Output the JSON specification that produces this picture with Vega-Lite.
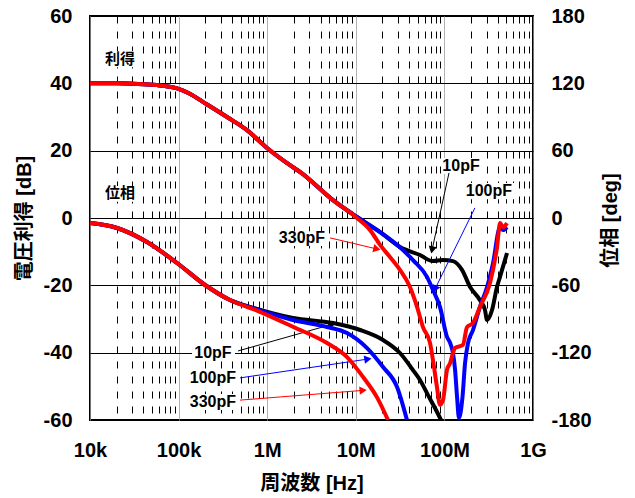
{
  "$schema": "https://vega.github.io/schema/vega-lite/v6.json",
  "width": 443,
  "height": 404,
  "autosize": "none",
  "padding": {"left": 90, "top": 16, "right": 102, "bottom": 78},
  "background": "white",
  "config": {"view": {"stroke": "#000000", "strokeWidth": 2}, "font": "Liberation Sans"},
  "datasets": {
    "gain10": [
      {"f": 10000, "v": 40.0}, {"f": 20000, "v": 40.0}, {"f": 30000, "v": 39.9}, {"f": 50000, "v": 39.6},
      {"f": 70000, "v": 39.2}, {"f": 96000, "v": 38.5}, {"f": 134000, "v": 36.9}, {"f": 188000, "v": 34.5},
      {"f": 352000, "v": 30.0}, {"f": 591000, "v": 26.1},
      {"f": 995000, "v": 20.8}, {"f": 1950000, "v": 15.1}, {"f": 2340000, "v": 13.7}, {"f": 5530000, "v": 5.3},
      {"f": 10300000, "v": 0.3}, {"f": 18800000, "v": -4.2}, {"f": 31500000, "v": -8.6}, {"f": 53000000, "v": -11.0},
      {"f": 74000000, "v": -12.8}, {"f": 96000000, "v": -12.5}, {"f": 125000000, "v": -12.8}, {"f": 158000000, "v": -15.4},
      {"f": 195000000, "v": -20.5}, {"f": 252000000, "v": -24.4}, {"f": 287000000, "v": -27.3}, {"f": 303000000, "v": -30.3},
      {"f": 345000000, "v": -27.3}, {"f": 392000000, "v": -20.5}, {"f": 424000000, "v": -17.5}, {"f": 509000000, "v": -10.4}
    ],
    "gain100": [
      {"f": 10000, "v": 40.0}, {"f": 20000, "v": 40.0}, {"f": 30000, "v": 39.9}, {"f": 50000, "v": 39.6},
      {"f": 70000, "v": 39.2}, {"f": 96000, "v": 38.5}, {"f": 134000, "v": 36.9}, {"f": 188000, "v": 34.5},
      {"f": 352000, "v": 30.0}, {"f": 591000, "v": 26.1},
      {"f": 995000, "v": 20.8}, {"f": 1950000, "v": 15.1}, {"f": 2340000, "v": 13.7}, {"f": 5530000, "v": 5.3},
      {"f": 10300000, "v": 0.3}, {"f": 18800000, "v": -4.2}, {"f": 31500000, "v": -8.7}, {"f": 44200000, "v": -12.5},
      {"f": 63600000, "v": -17.5}, {"f": 74300000, "v": -21.4}, {"f": 89100000, "v": -26.4}, {"f": 107000000, "v": -35.3},
      {"f": 116000000, "v": -37.1}, {"f": 125000000, "v": -40.1}, {"f": 132000000, "v": -45.1}, {"f": 139000000, "v": -53.2},
      {"f": 146000000, "v": -59.4}, {"f": 160000000, "v": -53.2}, {"f": 171000000, "v": -43.1}, {"f": 185000000, "v": -37.1},
      {"f": 210000000, "v": -33.3}, {"f": 252000000, "v": -26.4}, {"f": 303000000, "v": -20.5}, {"f": 354000000, "v": -13.4},
      {"f": 425000000, "v": -2.7}, {"f": 459000000, "v": -3.6}, {"f": 509000000, "v": -2.7}
    ],
    "gain330": [
      {"f": 10000, "v": 40.0}, {"f": 20000, "v": 40.0}, {"f": 30000, "v": 39.9}, {"f": 50000, "v": 39.6},
      {"f": 70000, "v": 39.2}, {"f": 96000, "v": 38.5}, {"f": 134000, "v": 36.9}, {"f": 188000, "v": 34.5},
      {"f": 352000, "v": 30.0}, {"f": 591000, "v": 26.1},
      {"f": 995000, "v": 20.8}, {"f": 1950000, "v": 15.1}, {"f": 2340000, "v": 13.7}, {"f": 5530000, "v": 5.3},
      {"f": 10300000, "v": 0.0}, {"f": 14500000, "v": -3.6}, {"f": 18800000, "v": -8.0}, {"f": 24300000, "v": -11.6},
      {"f": 31500000, "v": -15.4}, {"f": 40900000, "v": -20.5}, {"f": 49100000, "v": -26.4}, {"f": 57300000, "v": -32.4},
      {"f": 68800000, "v": -37.1}, {"f": 74300000, "v": -42.2}, {"f": 82400000, "v": -50.2}, {"f": 89100000, "v": -55.5},
      {"f": 96400000, "v": -54.1}, {"f": 107000000, "v": -45.1}, {"f": 116000000, "v": -43.1}, {"f": 125000000, "v": -40.1},
      {"f": 132000000, "v": -38.6}, {"f": 162000000, "v": -37.7}, {"f": 180000000, "v": -32.4}, {"f": 210000000, "v": -31.2},
      {"f": 252000000, "v": -26.4}, {"f": 327000000, "v": -19.3}, {"f": 393000000, "v": -8.6}, {"f": 425000000, "v": -1.5},
      {"f": 459000000, "v": -2.7}, {"f": 509000000, "v": -1.5}
    ],
    "phase10": [
      {"f": 10000, "p": -4.5}, {"f": 20200, "p": -8.9}, {"f": 44000, "p": -21.4}, {"f": 96000, "p": -40.1},
      {"f": 199000, "p": -59.7}, {"f": 380000, "p": -73.1}, {"f": 767000, "p": -81.0}, {"f": 1950000, "p": -89.1},
      {"f": 5530000, "p": -93.6}, {"f": 11200000, "p": -99.8}, {"f": 20300000, "p": -108.7}, {"f": 31500000, "p": -120.3},
      {"f": 44200000, "p": -135.5}, {"f": 53000000, "p": -144.4}, {"f": 65300000, "p": -157.8}, {"f": 78300000, "p": -169.3},
      {"f": 91600000, "p": -180}
    ],
    "phase100": [
      {"f": 10000, "p": -4.5}, {"f": 20200, "p": -8.9}, {"f": 44000, "p": -21.4}, {"f": 96000, "p": -40.1},
      {"f": 199000, "p": -59.7}, {"f": 380000, "p": -73.1}, {"f": 767000, "p": -81.5}, {"f": 1950000, "p": -90.9},
      {"f": 4730000, "p": -97.1}, {"f": 7960000, "p": -102.5}, {"f": 13400000, "p": -115.9}, {"f": 20300000, "p": -132.8},
      {"f": 29200000, "p": -150.6}, {"f": 37800000, "p": -180}
    ],
    "phase330": [
      {"f": 10000, "p": -4.5}, {"f": 20200, "p": -8.9}, {"f": 44000, "p": -21.4}, {"f": 96000, "p": -40.1},
      {"f": 199000, "p": -59.7}, {"f": 380000, "p": -73.1}, {"f": 767000, "p": -82.5}, {"f": 1950000, "p": -96.9},
      {"f": 4730000, "p": -111.4}, {"f": 7960000, "p": -123.9}, {"f": 12100000, "p": -141.7}, {"f": 17300000, "p": -159.6},
      {"f": 23100000, "p": -180}
    ],
    "boxes": [
      {"f1": 141600, "f2": 433000, "v1": -37.7, "v2": -42.5},
      {"f1": 131000, "f2": 468000, "v1": -45.1, "v2": -49.9},
      {"f1": 131000, "f2": 468000, "v1": -52.3, "v2": -57.0},
      {"f1": 91600000, "f2": 259000000, "v1": 17.8, "v2": 13.1},
      {"f1": 171000000, "f2": 611000000, "v1": 10.4, "v2": 5.6},
      {"f1": 1290000, "f2": 4730000, "v1": -3.9, "v2": -8.3},
      {"f1": 13700, "f2": 34800, "v1": 49.6, "v2": 44.8},
      {"f1": 13700, "f2": 34800, "v1": 9.5, "v2": 4.8}
    ],
    "arrows": [
      {"id": "u10", "c": "10pF", "f1": 112700000, "v1": 13.4, "f2": 72500000, "v2": -9.5},
      {"id": "u100", "c": "100pF", "f1": 221000000, "v1": 3.0, "f2": 78300000, "v2": -21.1},
      {"id": "u330", "c": "330pF", "f1": 5120000, "v1": -5.9, "f2": 17300000, "v2": -9.2},
      {"id": "l10", "c": "10pF", "f1": 468000, "v1": -39.5, "f2": 5380000, "v2": -31.6},
      {"id": "l100", "c": "100pF", "f1": 493000, "v1": -47.5, "f2": 13700000, "v2": -41.9},
      {"id": "l330", "c": "330pF", "f1": 493000, "v1": -54.1, "f2": 12100000, "v2": -51.2}
    ],
    "pflabels": [
      {"t": "10pF", "f": 154000000, "v": 15.4},
      {"t": "100pF", "f": 318000000, "v": 8.0},
      {"t": "330pF", "f": 2470000, "v": -5.9},
      {"t": "10pF", "f": 244000, "v": -40.1},
      {"t": "100pF", "f": 244000, "v": -47.5},
      {"t": "330pF", "f": 244000, "v": -54.6}
    ],
    "jplabels": [
      {"t": "利得", "f": 21800, "v": 47.2},
      {"t": "位相", "f": 21800, "v": 7.4}
    ]
  },
  "layer": [
    {
      "layer": [
        {
          "data": {"name": "gain10"},
          "mark": {"type": "line", "color": "#000000", "strokeWidth": 4, "interpolate": "monotone"},
          "encoding": {
            "x": {
              "field": "f", "type": "quantitative",
              "scale": {"type": "log", "domain": [10000, 1000000000]},
              "axis": {
                "values": [10000, 20000, 30000, 40000, 50000, 60000, 70000, 80000, 90000,
                  100000, 200000, 300000, 400000, 500000, 600000, 700000, 800000, 900000,
                  1000000, 2000000, 3000000, 4000000, 5000000, 6000000, 7000000, 8000000, 9000000,
                  10000000, 20000000, 30000000, 40000000, 50000000, 60000000, 70000000, 80000000, 90000000,
                  100000000, 200000000, 300000000, 400000000, 500000000, 600000000, 700000000, 800000000, 900000000,
                  1000000000],
                "labelExpr": "datum.value == 10000 ? '10k' : datum.value == 100000 ? '100k' : datum.value == 1000000 ? '1M' : datum.value == 10000000 ? '10M' : datum.value == 100000000 ? '100M' : datum.value == 1000000000 ? '1G' : ''",
                "grid": true,
                "gridColor": {"condition": {"test": "indexof([10000,100000,1000000,10000000,100000000,1000000000], datum.value) >= 0", "value": "#999999"}, "value": "#000000"},
                "gridDash": {"condition": {"test": "indexof([10000,100000,1000000,10000000,100000000,1000000000], datum.value) >= 0", "value": [1, 0]}, "value": [7, 8]},
                "gridWidth": 1,
                "gridOpacity": 1,
                "ticks": false,
                "domain": false,
                "labelFont": "Liberation Sans",
                "labelFontSize": 20,
                "labelFontWeight": "bold",
                "labelColor": "#000000",
                "labelPadding": 20,
                "labelFlush": false,
                "labelOverlap": false,
                "title": "周波数 [Hz]",
                "titleFont": "Liberation Sans, Noto Sans CJK JP",
                "titleFontSize": 20,
                "titleFontWeight": "bold",
                "titleColor": "#000000",
                "titleY": 63,
                "titleBaseline": "middle"
              }
            },
            "y": {
              "field": "v", "type": "quantitative",
              "scale": {"domain": [-60, 60], "nice": false, "zero": false},
              "axis": {
                "orient": "left",
                "values": [-60, -40, -20, 0, 20, 40, 60],
                "labelExpr": "'' + datum.value",
                "grid": true,
                "gridColor": "#000000",
                "gridWidth": 1,
                "gridOpacity": {"condition": {"test": "abs(datum.value) == 60", "value": 0}, "value": 1},
                "ticks": false,
                "domain": false,
                "labelFont": "Liberation Sans",
                "labelFontSize": 20,
                "labelFontWeight": "bold",
                "labelColor": "#000000",
                "labelPadding": 18,
                "labelFlush": false,
                "labelOverlap": false,
                "title": "電圧利得 [dB]",
                "titleFont": "Liberation Sans, Noto Sans CJK JP",
                "titleFontSize": 20,
                "titleFontWeight": "bold",
                "titleColor": "#000000",
                "titleX": -66,
                "titleY": 202,
                "titleAngle": -90,
                "titleAlign": "center",
                "titleBaseline": "middle"
              }
            }
          }
        },
        {
          "data": {"name": "boxes"},
          "mark": {"type": "rect", "color": "#ffffff", "opacity": 1},
          "encoding": {
            "x": {"field": "f1", "type": "quantitative"},
            "x2": {"field": "f2"},
            "y": {"field": "v1", "type": "quantitative"},
            "y2": {"field": "v2"}
          }
        },
        {
          "data": {"name": "gain100"},
          "mark": {"type": "line", "color": "#0000ff", "strokeWidth": 4, "interpolate": "monotone"},
          "encoding": {
            "x": {"field": "f", "type": "quantitative"},
            "y": {"field": "v", "type": "quantitative"}
          }
        },
        {
          "data": {"name": "gain330"},
          "mark": {"type": "line", "color": "#ff0000", "strokeWidth": 4, "interpolate": "monotone"},
          "encoding": {
            "x": {"field": "f", "type": "quantitative"},
            "y": {"field": "v", "type": "quantitative"}
          }
        },
        {
          "data": {"name": "arrows"},
          "mark": {"type": "rule", "strokeWidth": 1},
          "encoding": {
            "x": {"field": "f1", "type": "quantitative"},
            "x2": {"field": "f2"},
            "y": {"field": "v1", "type": "quantitative"},
            "y2": {"field": "v2"},
            "color": {"field": "c", "type": "nominal", "scale": {"domain": ["10pF", "100pF", "330pF"], "range": ["#000000", "#0000ff", "#ff0000"]}, "legend": null}
          }
        },
        {
          "data": {"name": "arrows"},
          "transform": [{"filter": "datum.id == 'u10'"}],
          "mark": {"type": "point", "shape": "triangle-up", "filled": true, "opacity": 1, "size": 70, "angle": 192, "strokeWidth": 0},
          "encoding": {
            "x": {"field": "f2", "type": "quantitative"},
            "y": {"field": "v2", "type": "quantitative"},
            "color": {"field": "c", "type": "nominal", "legend": null}
          }
        },
        {
          "data": {"name": "arrows"},
          "transform": [{"filter": "datum.id == 'u100'"}],
          "mark": {"type": "point", "shape": "triangle-up", "filled": true, "opacity": 1, "size": 70, "angle": 206, "strokeWidth": 0},
          "encoding": {
            "x": {"field": "f2", "type": "quantitative"},
            "y": {"field": "v2", "type": "quantitative"},
            "color": {"field": "c", "type": "nominal", "legend": null}
          }
        },
        {
          "data": {"name": "arrows"},
          "transform": [{"filter": "datum.id == 'u330'"}],
          "mark": {"type": "point", "shape": "triangle-up", "filled": true, "opacity": 1, "size": 70, "angle": 103, "strokeWidth": 0},
          "encoding": {
            "x": {"field": "f2", "type": "quantitative"},
            "y": {"field": "v2", "type": "quantitative"},
            "color": {"field": "c", "type": "nominal", "legend": null}
          }
        },
        {
          "data": {"name": "arrows"},
          "transform": [{"filter": "datum.id == 'l10'"}],
          "mark": {"type": "point", "shape": "triangle-up", "filled": true, "opacity": 1, "size": 70, "angle": 74, "strokeWidth": 0},
          "encoding": {
            "x": {"field": "f2", "type": "quantitative"},
            "y": {"field": "v2", "type": "quantitative"},
            "color": {"field": "c", "type": "nominal", "legend": null}
          }
        },
        {
          "data": {"name": "arrows"},
          "transform": [{"filter": "datum.id == 'l100'"}],
          "mark": {"type": "point", "shape": "triangle-up", "filled": true, "opacity": 1, "size": 70, "angle": 81, "strokeWidth": 0},
          "encoding": {
            "x": {"field": "f2", "type": "quantitative"},
            "y": {"field": "v2", "type": "quantitative"},
            "color": {"field": "c", "type": "nominal", "legend": null}
          }
        },
        {
          "data": {"name": "arrows"},
          "transform": [{"filter": "datum.id == 'l330'"}],
          "mark": {"type": "point", "shape": "triangle-up", "filled": true, "opacity": 1, "size": 70, "angle": 85.5, "strokeWidth": 0},
          "encoding": {
            "x": {"field": "f2", "type": "quantitative"},
            "y": {"field": "v2", "type": "quantitative"},
            "color": {"field": "c", "type": "nominal", "legend": null}
          }
        },
        {
          "data": {"name": "pflabels"},
          "mark": {"type": "text", "font": "Liberation Sans", "fontSize": 16, "fontWeight": "bold", "color": "#000000", "align": "center", "baseline": "middle"},
          "encoding": {
            "x": {"field": "f", "type": "quantitative"},
            "y": {"field": "v", "type": "quantitative"},
            "text": {"field": "t"}
          }
        },
        {
          "data": {"name": "jplabels"},
          "mark": {"type": "text", "font": "Noto Sans CJK JP", "fontSize": 15, "fontWeight": "bold", "color": "#000000", "align": "center", "baseline": "middle"},
          "encoding": {
            "x": {"field": "f", "type": "quantitative"},
            "y": {"field": "v", "type": "quantitative"},
            "text": {"field": "t"}
          }
        }
      ]
    },
    {
      "layer": [
        {
          "data": {"name": "phase10"},
          "mark": {"type": "line", "color": "#000000", "strokeWidth": 4, "clip": true, "interpolate": "monotone"},
          "encoding": {
            "x": {"field": "f", "type": "quantitative"},
            "y": {
              "field": "p", "type": "quantitative",
              "scale": {"domain": [-180, 180], "nice": false, "zero": false},
              "axis": {
                "orient": "right",
                "values": [-180, -120, -60, 0, 60, 120, 180],
                "labelExpr": "'' + datum.value",
                "grid": false,
                "ticks": false,
                "domain": false,
                "labelFont": "Liberation Sans",
                "labelFontSize": 20,
                "labelFontWeight": "bold",
                "labelColor": "#000000",
                "labelPadding": 18,
                "labelFlush": false,
                "labelOverlap": false,
                "title": "位相 [deg]",
                "titleFont": "Liberation Sans, Noto Sans CJK JP",
                "titleFontSize": 20,
                "titleFontWeight": "bold",
                "titleColor": "#000000",
                "titleX": 77,
                "titleY": 204,
                "titleAngle": -90,
                "titleAlign": "center",
                "titleBaseline": "middle"
              }
            }
          }
        },
        {
          "data": {"name": "phase100"},
          "mark": {"type": "line", "color": "#0000ff", "strokeWidth": 4, "clip": true, "interpolate": "monotone"},
          "encoding": {
            "x": {"field": "f", "type": "quantitative"},
            "y": {"field": "p", "type": "quantitative"}
          }
        },
        {
          "data": {"name": "phase330"},
          "mark": {"type": "line", "color": "#ff0000", "strokeWidth": 4, "clip": true, "interpolate": "monotone"},
          "encoding": {
            "x": {"field": "f", "type": "quantitative"},
            "y": {"field": "p", "type": "quantitative"}
          }
        }
      ]
    }
  ],
  "resolve": {"scale": {"y": "independent"}}
}
